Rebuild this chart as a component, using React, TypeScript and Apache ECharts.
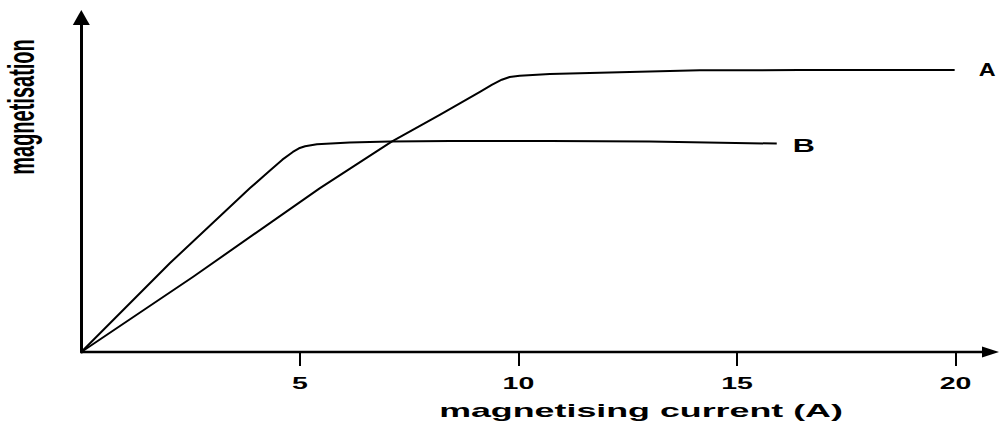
import React, { useEffect, useRef } from 'react';
import * as echarts from 'echarts';

// ---- data ----
const curveLabels = ['A', 'B'];
const currentA = [0, 2.56, 5.46, 7.1, 8.2, 9.12, 9.4, 9.62, 9.8, 10.03, 10.72, 11.86, 14.15, 16.43, 19.98];
const magnetA = [0, 22.5, 49.0, 62.9, 70.9, 77.8, 79.9, 81.4, 82.2, 82.6, 83.1, 83.5, 84.2, 84.3, 84.3];
const currentB = [0, 2.03, 3.86, 4.31, 4.6, 4.84, 4.98, 5.12, 5.39, 6.14, 7.06, 8.43, 10.72, 13.0, 15.91];
const magnetB = [0, 26.6, 49.0, 54.2, 57.5, 59.8, 60.9, 61.5, 62.1, 62.6, 62.9, 63.1, 63.1, 62.9, 62.3];
const xTickValues = [5, 10, 15, 20];
const xAxisTitle = 'magnetising current (A)';
const yAxisTitle = 'magnetisation';

// ---- styling ----
const FONT = '"Liberation Sans", Arial, sans-serif';
const labelOffsets = [
  [24, 0],
  [16, 1.5],
];
const labelStretch = [1.3, 1.7];

const zip = (xs: number[], ys: number[]) => xs.map((x, i) => [x, ys[i]]);

export default function App() {
  const ref = useRef<HTMLDivElement>(null);

  useEffect(() => {
    if (!ref.current) return;
    const chart = echarts.init(ref.current, undefined, { renderer: 'svg' });
    const curves = [zip(currentA, magnetA), zip(currentB, magnetB)];
    const lineSeries = curves.map((d, i) => ({
      type: 'line',
      name: curveLabels[i],
      data: d,
      symbol: 'none',
      smooth: false,
      lineStyle: { color: '#000', width: 2, join: 'round' },
      silent: true,
    }));

    const option: any = {
      animation: false,
      backgroundColor: '#fff',
      grid: { left: 81.3, right: 8.5, top: 17.5, bottom: 69 },
      xAxis: {
        type: 'value',
        min: 0,
        max: 20.8,
        splitLine: { show: false },
        axisLine: {
          show: true,
          onZero: false,
          symbol: ['none', 'triangle'],
          symbolSize: [11, 17],
          lineStyle: { color: '#000', width: 2.3 },
        },
        axisTick: {
          show: true,
          customValues: xTickValues,
          length: 14,
          inside: false,
          lineStyle: { color: '#000', width: 2 },
        },
        axisLabel: { show: false },
      },
      yAxis: {
        type: 'value',
        min: 0,
        max: 100,
        splitLine: { show: false },
        axisLine: {
          show: true,
          onZero: false,
          symbol: ['none', 'triangle'],
          symbolSize: [17, 15],
          lineStyle: { color: '#000', width: 3 },
        },
        axisTick: { show: false },
        axisLabel: { show: false },
      },
      series: [
        ...lineSeries,
        {
          type: 'custom',
          name: 'xTickLabels',
          coordinateSystem: 'cartesian2d',
          clip: false,
          silent: true,
          data: xTickValues.map((v) => [v, 0]),
          renderItem: (params: any, api: any) => {
            const p = api.coord([api.value(0), 0]);
            return {
              type: 'text',
              x: p[0],
              y: p[1] + 31,
              scaleX: 1.78,
              style: {
                text: String(xTickValues[params.dataIndex]),
                font: `bold 16px ${FONT}`,
                fill: '#000',
                align: 'center',
                verticalAlign: 'middle',
                textAlign: 'center',
                textVerticalAlign: 'middle',
              },
            };
          },
        },
        {
          type: 'custom',
          name: 'curveLabels',
          coordinateSystem: 'cartesian2d',
          clip: false,
          silent: true,
          data: curves.map((d) => d[d.length - 1]),
          renderItem: (params: any, api: any) => {
            const i = params.dataIndex;
            const p = api.coord([api.value(0), api.value(1)]);
            return {
              type: 'text',
              x: p[0] + labelOffsets[i][0],
              y: p[1] + labelOffsets[i][1],
              scaleX: labelStretch[i],
              style: {
                text: curveLabels[i],
                font: `bold 18px ${FONT}`,
                fill: '#000',
                align: 'left',
                verticalAlign: 'middle',
                textAlign: 'left',
                textVerticalAlign: 'middle',
              },
            };
          },
        },
      ],
      graphic: [
        {
          type: 'text',
          x: 641,
          y: 410.5,
          scaleX: 1.99,
          silent: true,
          style: {
            text: xAxisTitle,
            font: `bold 18px ${FONT}`,
            fill: '#000',
            align: 'center',
            verticalAlign: 'middle',
            textAlign: 'center',
            textVerticalAlign: 'middle',
          },
        },
        {
          type: 'text',
          x: 21.5,
          y: 107,
          rotation: Math.PI / 2,
          scaleY: 1.8,
          silent: true,
          style: {
            text: yAxisTitle,
            font: `bold 20px ${FONT}`,
            fill: '#000',
            align: 'center',
            verticalAlign: 'middle',
            textAlign: 'center',
            textVerticalAlign: 'middle',
          },
        },
      ],
    };
    chart.setOption(option);
    return () => chart.dispose();
  }, []);

  return (
    <div
      ref={ref}
      style={{ position: 'absolute', left: 0, top: 0, width: 999, height: 421 }}
    />
  );
}
